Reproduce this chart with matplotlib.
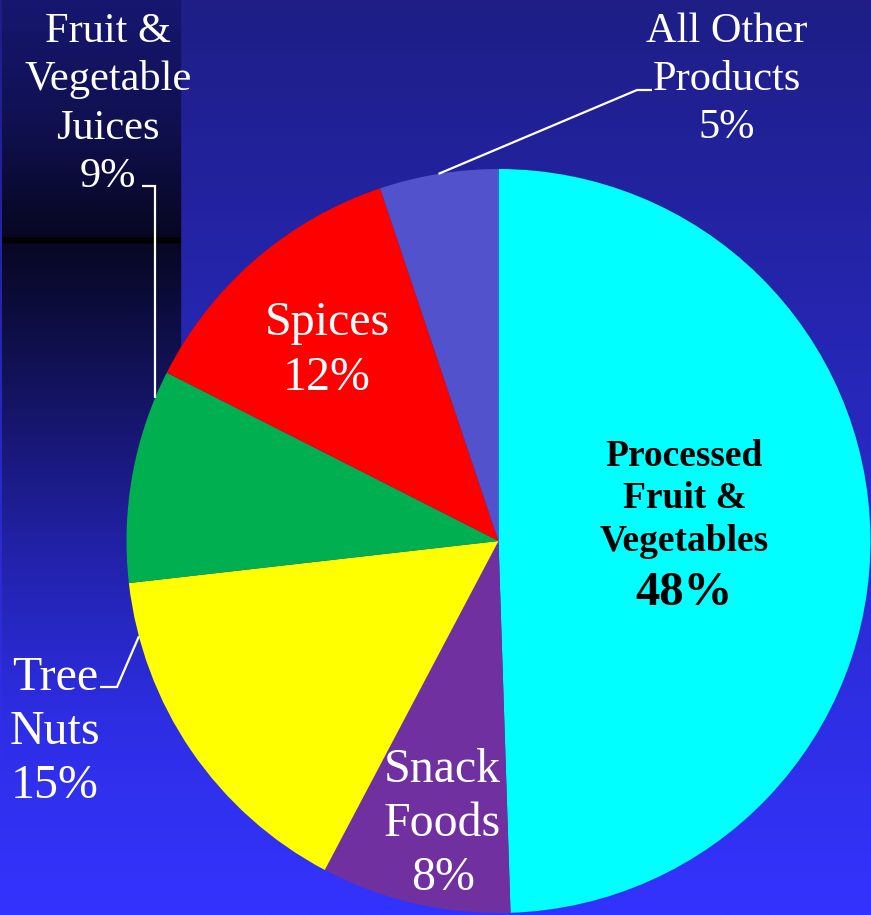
import numpy as np
import matplotlib
matplotlib.use("Agg")
import matplotlib.pyplot as plt

# Share of product categories
categories = ["Processed\nFruit &\nVegetables", "Snack\nFoods", "Tree\nNuts",
              "Fruit &\nVegetable\nJuices", "Spices", "All Other\nProducts"]
shares = [48, 8, 15, 9, 12, 5]
pct_labels = ["48%", "8%", "15%", "9%", "12%", "5%"]
colors = ["#00ffff", "#7030a0", "#ffff00", "#00b050", "#ff0000", "#5252cc"]

W, H = 871, 915
DPI = 100
CX, CY, R = 498.5, 541.0, 372.0  # pie centre and radius in pixels


def to_data(px, py):
    return (px - CX) / R, (CY - py) / R


fig = plt.figure(figsize=(W / DPI, H / DPI), dpi=DPI)

# ---- background: blue vertical gradient with a darker panel on the left
ys = np.arange(H)
t = ys / (H - 1)
top = np.array([30, 30, 134]) / 255
bot = np.array([51, 51, 255]) / 255
bg = top[None, :] * (1 - t[:, None]) + bot[None, :] * t[:, None]
img = np.repeat(bg[:, None, :], W, axis=1)

key_y = [0, 120, 236, 238, 242, 244, 300, 400, 550, 700, 800, 915]
key_v = [112, 82, 34, 0, 0, 36, 58, 100, 168, 222, 244, 255]
band_b = np.interp(ys, key_y, key_v) / 255
band = np.stack([band_b * 0.2, band_b * 0.2, band_b], axis=1)
band = np.minimum(band, bg)
img[:, 2:181, :] = band[:, None, :]

bgax = fig.add_axes([0, 0, 1, 1], zorder=0)
bgax.imshow(img, aspect="auto", extent=(0, W, H, 0), interpolation="bilinear")
bgax.set_axis_off()

# ---- pie
ax = fig.add_axes([0, 0, 1, 1], zorder=1)
ax.patch.set_alpha(0)
wedges, _ = ax.pie(shares, colors=colors, startangle=90, counterclock=False,
                   radius=1, center=(0, 0),
                   wedgeprops=dict(linewidth=0, antialiased=True))
x0, y0 = to_data(0, H)
x1, y1 = to_data(W, 0)
ax.set_xlim(x0, x1)
ax.set_ylim(y0, y1)
ax.set_aspect("auto")
ax.set_axis_off()

serif = ["Liberation Serif", "DejaVu Serif"]
FS = 34.5      # labels around the lower half
FS_TOP = 30.5  # labels along the top edge


def mid_point(w, frac):
    ang = np.deg2rad((w.theta1 + w.theta2) / 2)
    return frac * np.cos(ang), frac * np.sin(ang)


# inside labels
x, y = mid_point(wedges[0], 0.5)
ax.text(x, y + 0.105, categories[0], ha="center", va="center", fontsize=27,
        fontweight="bold", family=serif, color="black", linespacing=1.29)
ax.text(x, y - 0.148, pct_labels[0], ha="center", va="center", fontsize=35,
        fontweight="bold", family=serif, color="black")

x, y = mid_point(wedges[1], 0.78)
ax.text(x + 0.025, y, categories[1] + "\n" + pct_labels[1], ha="center",
        va="center", fontsize=FS, family=serif, color="white",
        linespacing=1.29)

x, y = mid_point(wedges[4], 0.69)
ax.text(x - 0.01, y - 0.011, categories[4] + "\n" + pct_labels[4],
        ha="center", va="center", fontsize=FS, family=serif, color="white",
        linespacing=1.33)

# outside labels
tx, ty = to_data(55, 732)
ax.text(tx, ty, categories[2] + "\n" + pct_labels[2], ha="center", va="center",
        fontsize=FS, family=serif, color="white", linespacing=1.29)

tx, ty = to_data(108, 104)
ax.text(tx, ty, categories[3] + "\n" + pct_labels[3], ha="center", va="center",
        fontsize=FS_TOP, family=serif, color="white", linespacing=1.33)

tx, ty = to_data(727, 80)
ax.text(tx, ty, categories[5] + "\n" + pct_labels[5], ha="center", va="center",
        fontsize=FS_TOP, family=serif, color="white", linespacing=1.33)


# leader lines from outside labels to their wedges
def edge_point(w, pos):
    ang = np.deg2rad(w.theta1 + (w.theta2 - w.theta1) * pos)
    return np.cos(ang), np.sin(ang)


def leader(pts_px, end):
    xs = [to_data(px, py)[0] for px, py in pts_px] + [end[0]]
    ys_ = [to_data(px, py)[1] for px, py in pts_px] + [end[1]]
    ax.plot(xs, ys_, color="white", lw=1.6, solid_capstyle="butt",
            solid_joinstyle="miter")


# juices: vertical drop to the wedge edge
vx, _ = to_data(155, 0)
leader([(142, 186), (155, 186)], (vx, np.sqrt(1 - vx ** 2)))
leader([(100, 687), (117, 687)], edge_point(wedges[2], 0.15))
leader([(652, 90), (637, 90)], edge_point(wedges[5], 0.5))

fig.savefig("out.png", dpi=DPI)
